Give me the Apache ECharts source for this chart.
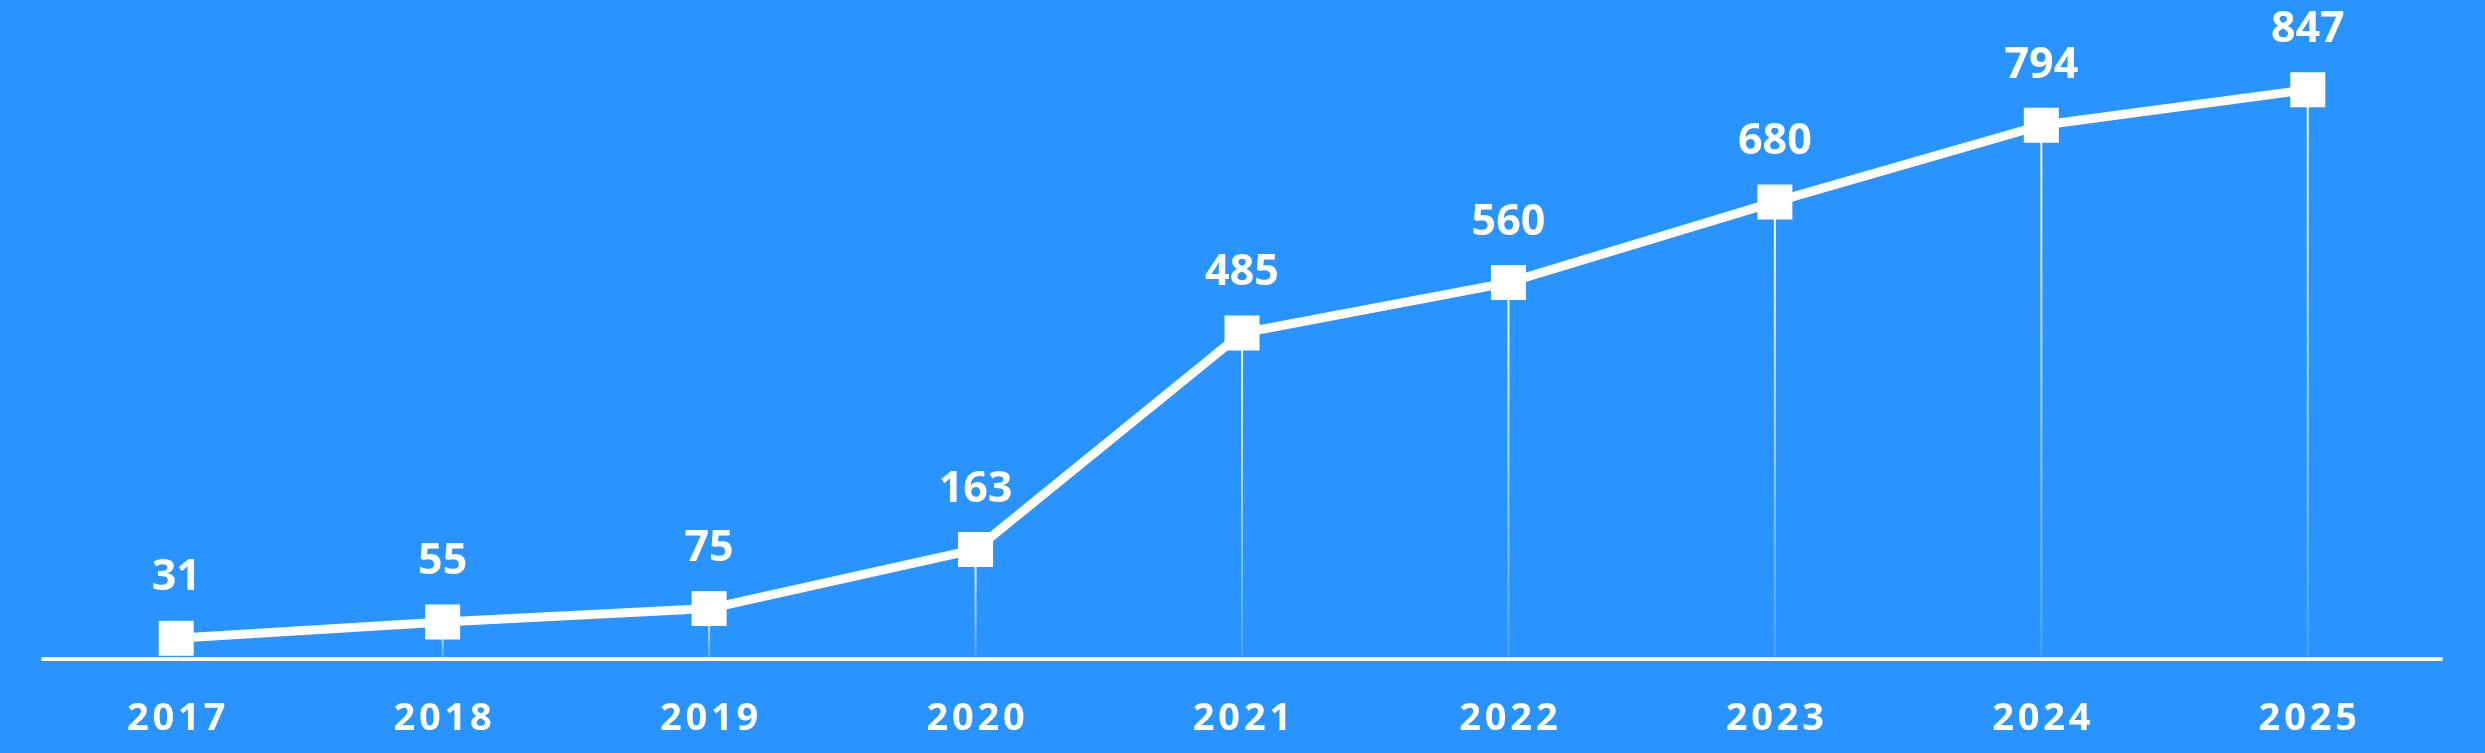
<!DOCTYPE html>
<html>
<head>
<meta charset="utf-8">
<script src="https://cdn.jsdelivr.net/npm/echarts@6/dist/echarts.min.js"></script>
<style>
html,body{margin:0;padding:0;background:#2994ff;}
#chart{width:2485px;height:753px;}
</style>
</head>
<body>
<div id="chart"></div>
<script>
const categories = ['2017','2018','2019','2020','2021','2022','2023','2024','2025'];
const values = [31, 55, 75, 163, 485, 560, 680, 794, 847];

const chart = echarts.init(document.getElementById('chart'), null, {renderer:'canvas'});
chart.setOption({
  backgroundColor: '#2994ff',
  animation: false,
  grid: {left: 43, right: 44, top: 54, bottom: 94, containLabel: false},
  xAxis: {
    type: 'category',
    data: categories,
    boundaryGap: true,
    axisLine: {show: true, lineStyle: {color: '#ffffff', width: 4}},
    axisTick: {show: false},
    axisLabel: {
      color: '#ffffff', fontSize: 38, fontWeight: 'bold',
      fontFamily: 'Open Sans', margin: 41,
      formatter: v => v.split('').join('\u200A')
    }
  },
  yAxis: {
    type: 'value', min: 0, max: 900,
    show: false,
    splitLine: {show: false}
  },
  series: [
    {
      type: 'bar',
      data: values,
      barWidth: 2,
      silent: true,
      z: 1,
      itemStyle: {
        color: new echarts.graphic.LinearGradient(0, 0, 0, 1, [
          {offset: 0, color: 'rgba(255,255,255,1)'},
          {offset: 1, color: 'rgba(255,255,255,0.15)'}
        ])
      }
    },
    {
      type: 'line',
      data: values,
      z: 3,
      symbol: 'rect',
      symbolSize: 35,
      showAllSymbol: true,
      lineStyle: {color: '#ffffff', width: 9},
      itemStyle: {color: '#ffffff'},
      label: {
        show: true, position: 'top', distance: 21,
        color: '#ffffff', fontSize: 43, fontWeight: 'bold',
        fontFamily: 'Open Sans'
      }
    }
  ]
});
</script>
</body>
</html>
